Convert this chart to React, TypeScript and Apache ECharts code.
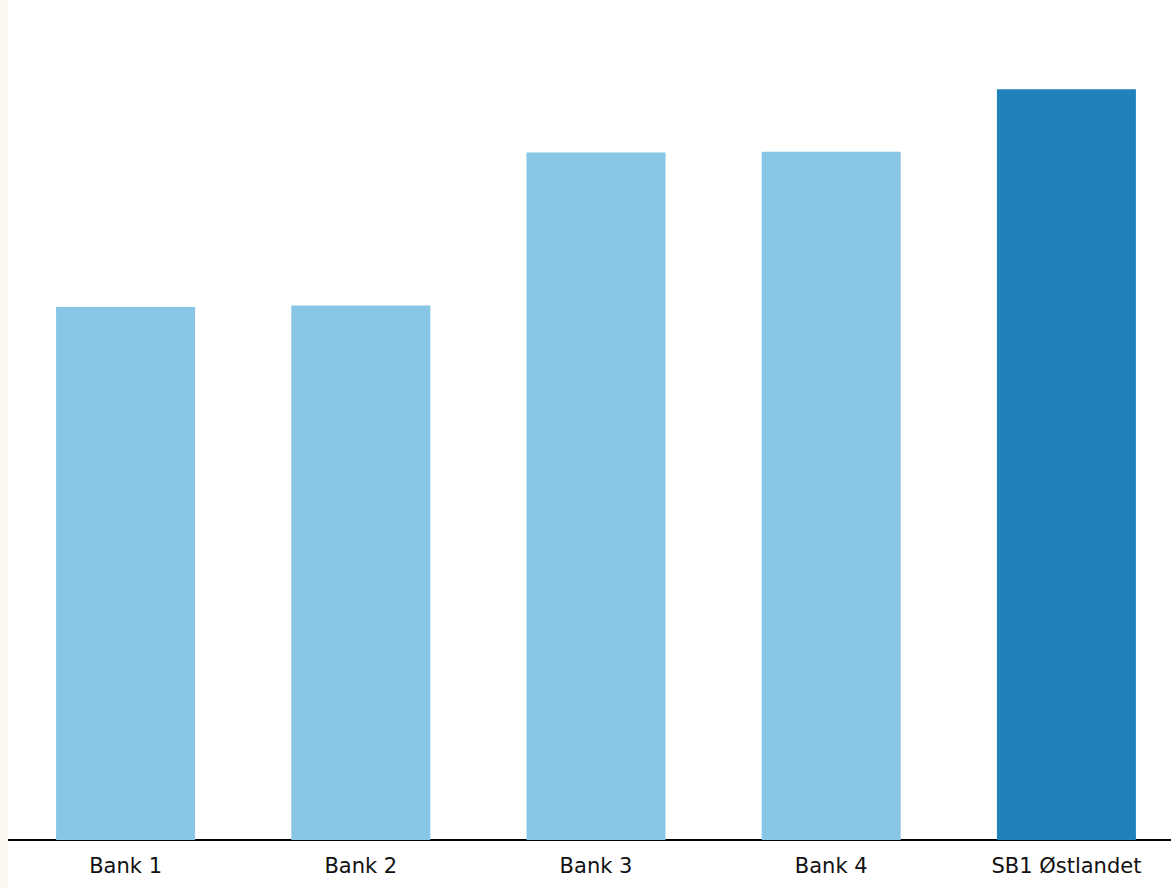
import React, { useEffect, useRef } from "react";
import * as echarts from "echarts";

const categories = ["Bank 1", "Bank 2", "Bank 3", "Bank 4", "SB1 Østlandet"];
const values = [7.1, 7.12, 9.16, 9.17, 10.0];
const barColors = ["#87C6E5", "#87C6E5", "#87C6E5", "#87C6E5", "#1F82BB"];

export default function App() {
  const ref = useRef<HTMLDivElement>(null);
  useEffect(() => {
    if (!ref.current) return;
    const chart = echarts.init(ref.current, null, { renderer: "svg" });
    chart.setOption({
      animation: false,
      backgroundColor: "#ffffff",
      grid: { left: 0, right: 0, top: 0, bottom: 48 },
      xAxis: {
        type: "category",
        data: categories,
        axisLine: { show: true, lineStyle: { color: "#000", width: 2 } },
        axisTick: { show: false },
        axisLabel: {
          color: "#111",
          fontSize: 21,
          fontFamily: "DejaVu Sans",
          margin: 15,
        },
      },
      yAxis: {
        type: "value",
        min: 0,
        max: 11.19,
        show: false,
        splitLine: { show: false },
      },
      series: [
        {
          type: "bar",
          barWidth: 139,
          data: values.map((v, i) => ({ value: v, itemStyle: { color: barColors[i] } })),
        },
      ],
    });
    return () => chart.dispose();
  }, []);
  return (
    <div style={{ position: "fixed", left: 0, top: 0, width: 1171, height: 888, overflow: "hidden", background: "#fff" }}>
      <div style={{ position: "absolute", left: 0, top: 0, width: 8, height: 888, background: "#FDF7F2", zIndex: 2 }} />
      <div ref={ref} style={{ position: "absolute", left: 8, top: 0, width: 1176, height: 888 }} />
    </div>
  );
}
